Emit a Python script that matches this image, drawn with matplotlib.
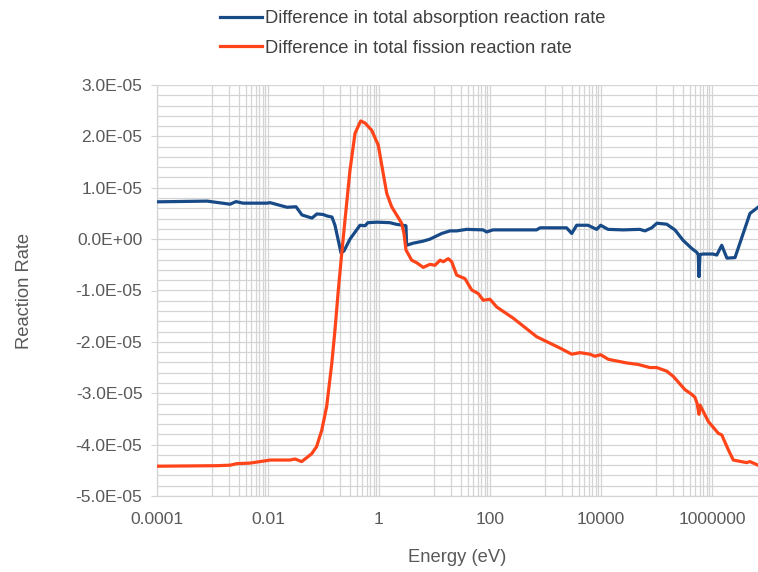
import matplotlib
matplotlib.use("Agg")
import matplotlib.pyplot as plt
from matplotlib.ticker import FixedLocator
import numpy as np

plt.rcParams['font.family'] = ['Liberation Sans', 'DejaVu Sans']

# Difference in total absorption reaction rate (energy eV, value in 1e-5)
abs_energy = [1.0e-4, 8.0e-4, 2.07e-3, 2.65e-3, 3.55e-3, 9.6e-3, 1.09e-2, 2.2e-2, 3.2e-2,
              4.1e-2, 6.2e-2, 7.6e-2, 9.8e-2, 0.116, 0.142, 0.161, 0.207, 0.234, 0.300,
              0.455, 0.56, 0.63, 0.92, 1.58, 2.02, 3.06, 3.15, 4.1, 6.2, 8.3, 13.5, 19,
              25, 38, 75, 87, 113, 260, 690, 800, 2400, 2970, 3650, 5830, 8370, 9880,
              1.34e4, 2.49e4, 5.0e4, 6.2e4, 8.2e4, 1.02e5, 1.53e5, 2.15e5, 3.0e5, 4.3e5,
              5.37e5, 5.67e5, 5.83e5, 6.08e5, 6.9e5, 1.04e6, 1.22e6, 1.50e6, 1.86e6,
              2.6e6, 4.84e6, 6.75e6]
abs_diff = [0.726, 0.74, 0.68, 0.73, 0.70, 0.70, 0.71, 0.62, 0.63,
            0.47, 0.41, 0.49, 0.48, 0.45, 0.43, 0.27, -0.27, -0.23, 0.0,
            0.27, 0.26, 0.32, 0.33, 0.32, 0.29, 0.26, -0.12, -0.08, -0.04, 0.0, 0.11, 0.16,
            0.16, 0.19, 0.18, 0.14, 0.18, 0.18, 0.18, 0.22, 0.22, 0.11, 0.27, 0.27, 0.19, 0.27,
            0.19, 0.18, 0.19, 0.16, 0.22, 0.31, 0.29, 0.18, -0.02, -0.18,
            -0.26, -0.31, -0.73, -0.30, -0.29, -0.29, -0.31, -0.12, -0.37,
            -0.36, 0.50, 0.62]

# Difference in total fission reaction rate (energy eV, value in 1e-5)
fis_energy = [1.0e-4, 1.2e-3, 2.07e-3, 2.76e-3, 4.7e-3, 9.6e-3, 1.09e-2, 2.49e-2, 3.06e-2,
              4.05e-2, 6.1e-2, 7.5e-2, 9.3e-2, 0.114, 0.141, 0.161, 0.185, 0.213, 0.244,
              0.300, 0.370, 0.468, 0.56, 0.738, 0.97, 1.19, 1.38, 1.69, 2.08, 2.56, 2.82,
              3.06, 3.88, 4.78, 6.28, 8.3, 10.2, 12.6, 14.4, 17.7, 20.4, 25.1, 35.5, 46.8,
              61.5, 75.7, 100, 132, 263, 694, 1820, 2970, 4190, 6340, 7800, 9880, 1.36e4,
              2.9e4, 4.7e4, 7.6e4, 1.01e5, 1.53e5, 2.0e5, 3.26e5, 4.3e5, 4.94e5, 5.4e5,
              5.83e5, 6.08e5, 8.6e5, 1.30e6, 1.50e6, 1.97e6, 2.42e6, 4.2e6, 4.84e6, 6.75e6]
fis_diff = [-4.42, -4.41, -4.40, -4.37, -4.36, -4.31, -4.30, -4.30, -4.28,
            -4.33, -4.18, -4.04, -3.72, -3.26, -2.42, -1.77, -0.99, -0.28, 0.37,
            1.34, 2.06, 2.30, 2.26, 2.12, 1.83, 1.28, 0.89, 0.63, 0.47, 0.31, 0.11,
            -0.21, -0.41, -0.46, -0.55, -0.49, -0.51, -0.41, -0.44, -0.38, -0.44, -0.70, -0.77, -0.99,
            -1.06, -1.19, -1.17, -1.32, -1.54, -1.90, -2.12, -2.24, -2.21, -2.24, -2.28, -2.25, -2.34,
            -2.41, -2.44, -2.50, -2.50, -2.57, -2.67, -2.93, -3.02, -3.08, -3.20,
            -3.41, -3.23, -3.55, -3.78, -3.81, -4.10, -4.30, -4.35, -4.33, -4.40]

x_tick_values = [1e-4, 1e-2, 1, 100, 1e4, 1e6]
x_tick_labels = ["0.0001", "0.01", "1", "100", "10000", "1000000"]
y_tick_values = [3e-5, 2e-5, 1e-5, 0, -1e-5, -2e-5, -3e-5, -4e-5, -5e-5]
y_tick_labels = ["3.0E-05", "2.0E-05", "1.0E-05", "0.0E+00", "-1.0E-05", "-2.0E-05",
                 "-3.0E-05", "-4.0E-05", "-5.0E-05"]

BLUE = '#174A87'
ORANGE = '#FF4419'
GRID = '#D4D4D4'
TEXT = '#595959'
FS_TICK = 12.6
FS_LAB = 13.2

fig = plt.figure(figsize=(7.58, 5.72), dpi=100)
ax = fig.add_axes([157/758, 1-496/572, 1-157/758, (496-85)/572])

ax.plot(abs_energy, np.array(abs_diff)*1e-5, color=BLUE, lw=2.3, solid_joinstyle='round',
        label='Difference in total absorption reaction rate', zorder=3)
ax.plot(fis_energy, np.array(fis_diff)*1e-5, color=ORANGE, lw=2.3, solid_joinstyle='round',
        label='Difference in total fission reaction rate', zorder=3)

ax.set_xscale('log')
ax.set_xlim(1e-4, 6.75e6)
ax.set_ylim(-5e-5, 3e-5)

# gridlines
for k in range(-4, 7):
    ax.axvline(10.0**k, color=GRID, lw=0.9, zorder=1)
    if k % 2 != 0:
        for m in range(2, 10):
            ax.axvline(m*10.0**k, color=GRID, lw=0.9, zorder=1)
for v in np.arange(-5e-5, 3.01e-5, 2e-6):
    ax.axhline(v, color=GRID, lw=0.9, zorder=1)

ax.xaxis.set_major_locator(FixedLocator(x_tick_values))
ax.xaxis.set_minor_locator(FixedLocator([]))
ax.set_xticks(x_tick_values)
ax.set_xticklabels(x_tick_labels)
ax.set_yticks(y_tick_values)
ax.set_yticklabels(y_tick_labels)
ax.tick_params(axis='x', length=0, pad=11.5, labelsize=FS_TICK, labelcolor=TEXT)
ax.tick_params(axis='y', length=4, pad=6.5, labelsize=FS_TICK, labelcolor=TEXT, color=GRID)

for s in ['top', 'right']:
    ax.spines[s].set_visible(False)
for s in ['left', 'bottom']:
    ax.spines[s].set_color(GRID)
    ax.spines[s].set_linewidth(0.9)

ax.set_xlabel('Energy (eV)', fontsize=FS_LAB, color=TEXT, labelpad=15.5)
ax.set_ylabel('Reaction Rate', fontsize=FS_LAB, color=TEXT, labelpad=31)

fig.legend(loc='upper left', bbox_to_anchor=(220/758, 1-10/572), frameon=False,
           fontsize=FS_LAB, handlelength=2.3, handletextpad=0.15, labelspacing=0.7,
           labelcolor='#404040', borderpad=0, borderaxespad=0)

fig.savefig('out.png', dpi=100)
